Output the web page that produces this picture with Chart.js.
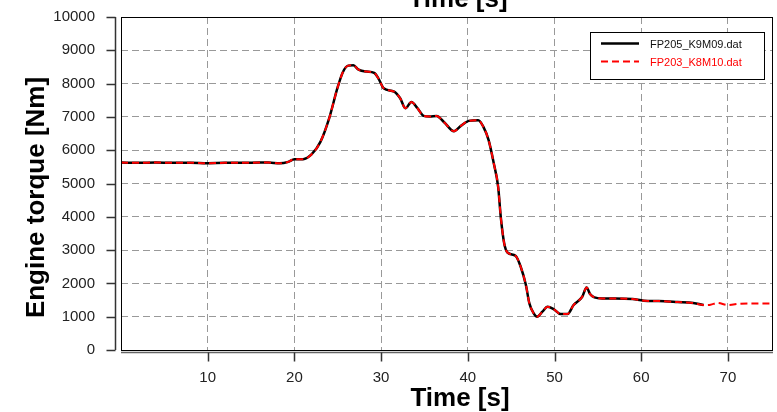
<!DOCTYPE html>
<html>
<head>
<meta charset="utf-8">
<script src="https://cdn.jsdelivr.net/npm/chart.js@4.4.1/dist/chart.umd.min.js"></script>
<style>
  html, body { margin: 0; padding: 0; background: #fff; }
  #wrap { width: 777px; height: 412px; }
</style>
</head>
<body>
<div id="wrap"><canvas id="torque-chart"></canvas></div>
<script>
// time [s] and engine torque [Nm]
var timeK9 = [0, 2, 4, 6, 8, 10, 12, 14, 16, 17, 18.3, 19.3, 20, 21, 22, 23, 24, 25, 25.6, 26.2,
  26.8, 27.4, 28.3, 29.2, 29.7, 30.3, 31.5, 32.2, 32.8, 33.5, 34.2, 34.9, 35.6, 36.4, 37.3, 38.4,
  39.2, 40.1, 41.2, 41.8, 42.4, 43.0, 43.5, 43.8, 44.2, 44.6, 45.5, 46.1, 46.7, 47.1, 47.6, 48.0,
  48.6, 49.2, 49.9, 50.7, 51.5, 52.2, 53.2, 53.7, 54.1, 54.6, 55.5, 57, 59, 60.3, 62, 64.2, 66.0, 67.2];
var torqueK9 = [5630, 5620, 5630, 5620, 5625, 5610, 5620, 5620, 5630, 5630, 5605, 5650, 5730, 5730, 5880, 6250, 6950, 7900, 8350, 8540,
  8550, 8420, 8360, 8320, 8150, 7860, 7760, 7560, 7260, 7450, 7260, 7030, 7010, 7030, 6830, 6570,
  6730, 6880, 6900, 6700, 6300, 5600, 4900, 4000, 3200, 2920, 2830, 2500, 1950, 1400, 1100, 1000,
  1150, 1300, 1230, 1080, 1080, 1350, 1600, 1880, 1680, 1580, 1550, 1550, 1530, 1480, 1470, 1440, 1410, 1350];

var timeK8 = [0, 2, 4, 6, 8, 10, 12, 14, 16, 17, 18.3, 19.3, 20, 21, 22, 23, 24, 25, 25.6, 26.2,
  26.8, 27.4, 28.3, 29.2, 29.7, 30.3, 31.5, 32.2, 32.8, 33.5, 34.2, 34.9, 35.6, 36.4, 37.3, 38.4,
  39.2, 40.1, 41.2, 41.8, 42.4, 43.0, 43.5, 43.8, 44.2, 44.6, 45.5, 46.1, 46.7, 47.1, 47.6, 48.0,
  48.6, 49.2, 49.9, 50.7, 51.5, 52.2, 53.2, 53.7, 54.1, 54.6, 55.5, 57, 59, 60.3, 62, 64.2, 66.0, 67.2,
  68, 68.8, 70, 71.4, 73, 75.2];
var torqueK8 = [5630, 5620, 5630, 5620, 5625, 5610, 5620, 5620, 5630, 5630, 5605, 5650, 5730, 5730, 5880, 6250, 6950, 7900, 8350, 8540,
  8550, 8420, 8360, 8320, 8150, 7860, 7760, 7560, 7260, 7450, 7260, 7030, 7010, 7030, 6830, 6570,
  6730, 6880, 6900, 6700, 6300, 5600, 4900, 4000, 3200, 2920, 2830, 2500, 1950, 1400, 1100, 1000,
  1150, 1300, 1230, 1080, 1080, 1350, 1600, 1880, 1680, 1580, 1550, 1550, 1530, 1480, 1470, 1440, 1410, 1350,
  1360, 1410, 1350, 1390, 1400, 1400];

var yTicks = [0, 1000, 2000, 3000, 4000, 5000, 6000, 7000, 8000, 9000, 10000];
var xTicks = [10, 20, 30, 40, 50, 60, 70];
var seriesNames = ['FP205_K9M09.dat', 'FP203_K8M10.dat'];
var xTitle = 'Time [s]';
var yTitle = 'Engine torque [Nm]';

var FONT = 'Liberation Sans, Arial, sans-serif';

function toPoints(xs, ys) {
  var pts = [];
  for (var i = 0; i < xs.length; i++) pts.push({ x: xs[i], y: ys[i] });
  return pts;
}

// frame, offset spines, legend box and titles
var decorations = {
  id: 'decorations',
  afterDraw: function (chart) {
    var ctx = chart.ctx, a = chart.chartArea;
    var xs = chart.scales.x, ys = chart.scales.y;
    ctx.save();

    // plot frame
    ctx.strokeStyle = '#000';
    ctx.lineWidth = 1;
    ctx.strokeRect(a.left + 0.5, a.top + 0.5, a.right - a.left - 1, a.bottom - a.top);

    // y spine, offset to the left
    ctx.strokeStyle = '#333';
    ctx.lineWidth = 1.5;
    var sx = a.left - 5.5;
    ctx.beginPath();
    ctx.moveTo(sx, ys.getPixelForValue(10000));
    ctx.lineTo(sx, ys.getPixelForValue(0));
    yTicks.forEach(function (v) {
      var py = Math.round(ys.getPixelForValue(v)) + 0.5;
      ctx.moveTo(sx - 9, py);
      ctx.lineTo(sx, py);
    });
    ctx.stroke();

    // x spine just under the frame
    var sy = a.bottom + 2.5;
    ctx.strokeStyle = '#666';
    ctx.lineWidth = 1.5;
    ctx.beginPath();
    ctx.moveTo(a.left, sy);
    ctx.lineTo(a.right, sy);
    ctx.stroke();
    ctx.strokeStyle = '#333';
    ctx.beginPath();
    xTicks.forEach(function (v) {
      var px = Math.round(xs.getPixelForValue(v)) + 0.5;
      ctx.moveTo(px, sy);
      ctx.lineTo(px, sy + 9);
    });
    ctx.stroke();

    // legend
    var bw = 174, bh = 47;
    var bx = a.right - 9 - bw, by = a.top + 15;
    ctx.fillStyle = '#fff';
    ctx.fillRect(bx, by, bw, bh);
    ctx.strokeStyle = '#000';
    ctx.lineWidth = 1;
    ctx.strokeRect(bx + 0.5, by + 0.5, bw, bh);
    var rows = [
      { name: seriesNames[0], color: '#000', dash: [], width: 2.5, y: by + 11.5 },
      { name: seriesNames[1], color: '#ff0000', dash: [7, 4], width: 2, y: by + 29.5 }
    ];
    ctx.font = '11px ' + FONT;
    ctx.textBaseline = 'middle';
    ctx.textAlign = 'left';
    rows.forEach(function (r) {
      ctx.strokeStyle = r.color;
      ctx.lineWidth = r.width;
      ctx.setLineDash(r.dash);
      ctx.beginPath();
      ctx.moveTo(bx + 11, r.y);
      ctx.lineTo(bx + 49, r.y);
      ctx.stroke();
      ctx.setLineDash([]);
      ctx.fillStyle = r.color === '#000' ? '#111' : '#ff0000';
      ctx.fillText(r.name, bx + 60, r.y + 1);
    });

    // titles
    ctx.fillStyle = '#000';
    ctx.font = 'bold 26px ' + FONT;
    ctx.textAlign = 'center';
    ctx.textBaseline = 'alphabetic';
    ctx.fillText(xTitle, 458, 7);
    ctx.fillText(xTitle, 460, 406);
    ctx.translate(44, 197.5);
    ctx.rotate(-Math.PI / 2);
    ctx.fillText(yTitle, 0, 0);

    ctx.restore();
  }
};

var ctx = document.getElementById('torque-chart').getContext('2d');

var myChart = new Chart(ctx, {
  type: 'line',
  data: {
    datasets: [{
      label: seriesNames[0],
      data: toPoints(timeK9, torqueK9),
      borderColor: '#000',
      borderWidth: 2.5,
      pointRadius: 0,
      fill: false,
      cubicInterpolationMode: 'monotone',
      order: 2
    }, {
      label: seriesNames[1],
      data: toPoints(timeK8, torqueK8),
      borderColor: '#ff0000',
      borderWidth: 2,
      borderDash: [7, 4],
      pointRadius: 0,
      fill: false,
      cubicInterpolationMode: 'monotone',
      order: 1
    }]
  },
  options: {
    responsive: true,
    maintainAspectRatio: false,
    animation: false,
    layout: { padding: { top: 17, right: 4, left: 0, bottom: 0 } },
    plugins: { legend: { display: false }, tooltip: { enabled: false } },
    scales: {
      x: {
        type: 'linear',
        min: 0,
        max: 75.2,
        afterBuildTicks: function (s) { s.ticks = xTicks.map(function (v) { return { value: v }; }); },
        afterFit: function (s) { s.height = 62; s.paddingLeft = 0; s.paddingRight = 0; },
        grid: { color: '#999', lineWidth: 1, drawTicks: false },
        border: { display: false, dash: [7, 4] },
        ticks: { padding: 19, maxRotation: 0, color: '#222', font: { family: FONT, size: 15 },
                 callback: function (v) { return String(v); } }
      },
      y: {
        min: 0,
        max: 10000,
        afterBuildTicks: function (s) { s.ticks = yTicks.map(function (v) { return { value: v }; }); },
        afterFit: function (s) { s.width = 121; s.paddingTop = 0; s.paddingBottom = 0; },
        grid: { color: '#999', lineWidth: 1, drawTicks: false },
        border: { display: false, dash: [7, 4] },
        ticks: { padding: 26, color: '#222', font: { family: FONT, size: 15 },
                 callback: function (v) { return String(v); } }
      }
    }
  },
  plugins: [decorations]
});
</script>
</body>
</html>
